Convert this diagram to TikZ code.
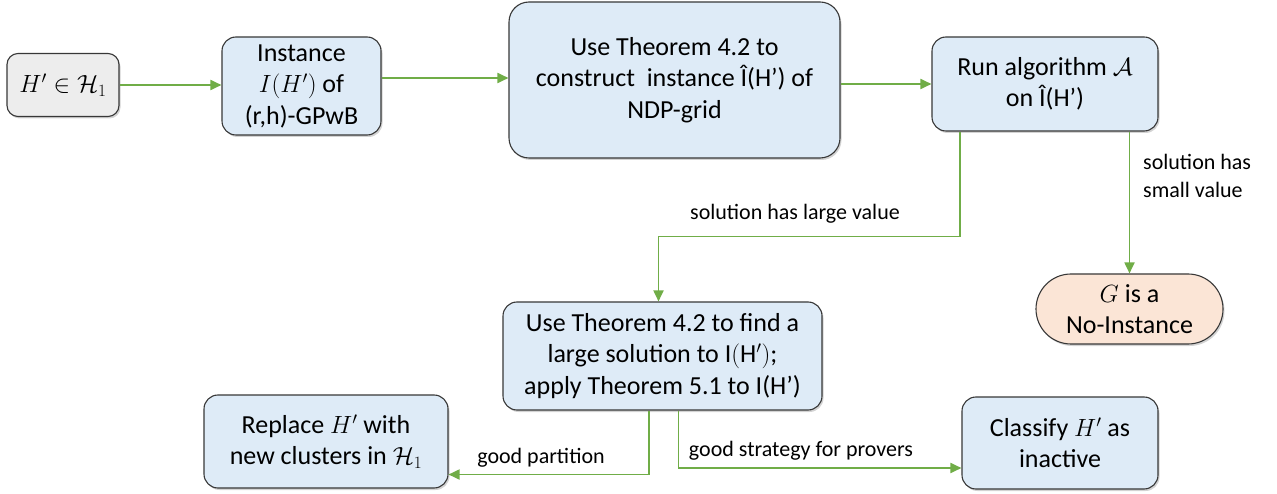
\documentclass[tikz,border=0pt]{standalone}
\usepackage{fontspec}
\setmainfont{Carlito}
\usetikzlibrary{arrows.meta,shadows,calc}
\definecolor{boxblue}{HTML}{DEEBF7}
\definecolor{boxgray}{HTML}{EDEDED}
\definecolor{boxpeach}{HTML}{FBE5D6}
\definecolor{conngreen}{HTML}{70AD47}
\definecolor{edgegray}{HTML}{383838}
\tikzset{
  basebox/.style={draw=edgegray, line width=1.1pt, align=center, inner sep=0pt,
    font=\fontsize{26}{31.5}\selectfont,
    drop shadow={opacity=0.35, shadow xshift=1.5pt, shadow yshift=-2pt}},
  bluebox/.style={basebox, fill=boxblue, rounded corners=14pt},
  graybox/.style={basebox, fill=boxgray, rounded corners=11pt},
  termbox/.style={basebox, fill=boxpeach, rounded corners=35pt},
  conn/.style={draw=conngreen, line width=1.8pt, -{Triangle[length=11pt,width=10pt]}},
  lbl/.style={font=\fontsize{22}{28}\selectfont, inner sep=0pt},
}
\begin{document}
\begin{tikzpicture}[x=1pt,y=-1pt]
\useasboundingbox (0,0) rectangle (1277,494);

\node[graybox, minimum width=112pt, minimum height=63pt] (b1) at (63,85) {$H'\in\mathcal{H}_1$};
\node[bluebox, minimum width=159pt, minimum height=98pt] (b2) at (301.5,86) {Instance\\$I(H')$ of\\(r,h)-GPwB};
\node[bluebox, rounded corners=20pt, minimum width=331pt, minimum height=156pt] (b3) at (674.5,80) {Use Theorem 4.2 to\\construct\ \ instance Î(H’) of\\NDP-grid};
\node[bluebox, minimum width=226pt, minimum height=94pt] (b4) at (1045,84) {Run algorithm $\mathcal{A}$\\on Î(H’)};
\node[termbox, minimum width=187pt, minimum height=70pt] (b8) at (1129.5,309) {$G$ is a\\No-Instance};
\node[bluebox, minimum width=319pt, minimum height=108pt] (b5) at (662.5,356) {Use Theorem 4.2 to find a\\large solution to $\mathrm{I}(\mathrm{H}')$;\\apply Theorem 5.1 to I(H’)};
\node[bluebox, minimum width=244pt, minimum height=93pt] (b6) at (326,441.5) {Replace $H'$ with\\new clusters in $\mathcal{H}_1$};
\node[bluebox, minimum width=196pt, minimum height=92pt] (b7) at (1060,443) {Classify $H'$ as\\inactive};

\draw[conn] (b1.east) -- (b1.east -| b2.west);
\draw[conn] ([yshift=8pt]b2.east) -- ([yshift=8pt]b2.east -| b3.west);
\draw[conn] (b4.west -| b3.east) -- (b4.west);
\draw[conn] ([xshift=-85pt]b4.south) -- ++(0,105) coordinate (bend) -| ([xshift=-4pt]b5.north);
\draw[conn] (b8.north |- b4.south) -- (b8.north);
\draw[conn] ([xshift=-13.5pt]b5.south) |- ([yshift=-33pt]b6.east);
\draw[conn] ([xshift=16pt]b5.south) |- ([yshift=-25pt]b7.west);

\node[lbl] (l1) at (795,214) {solution has large value};
\node[lbl, anchor=west, align=left] (l2) at (1143,176) {solution has\\small value};
\node[lbl] (l3) at (541,458) {good partition};
\node[lbl] (l4) at (801,451) {good strategy for provers};
\end{tikzpicture}
\end{document}
